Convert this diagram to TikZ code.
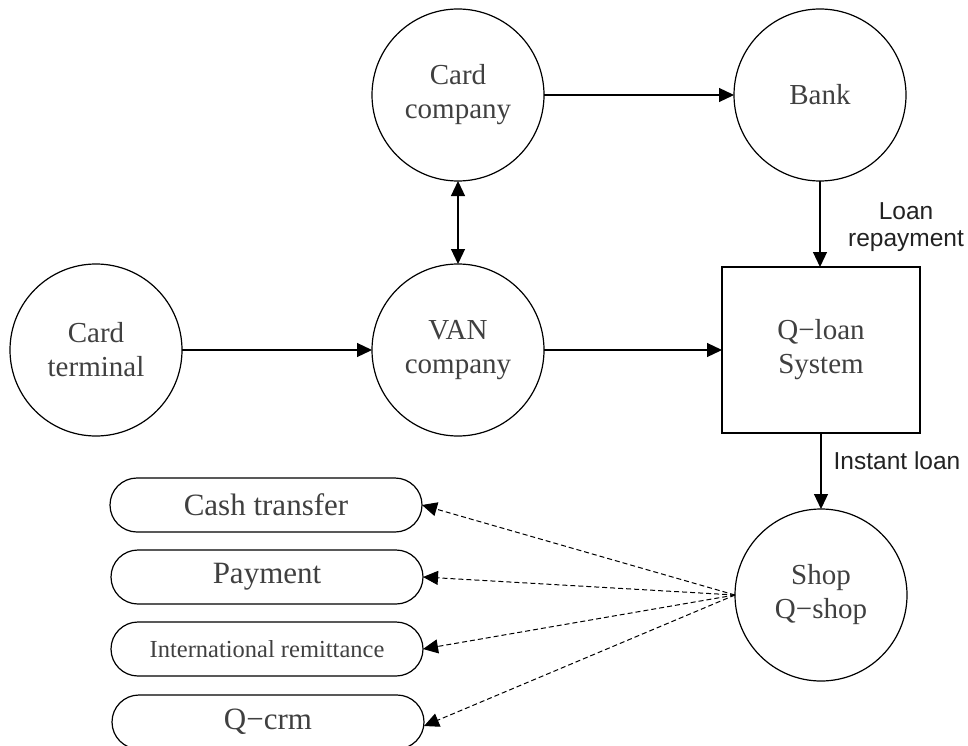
\documentclass[tikz,border=0pt]{standalone}
\usepackage{fontspec}
\setmainfont{Liberation Serif}
\setsansfont{Liberation Sans}
\usetikzlibrary{arrows.meta}
\definecolor{txtgray}{HTML}{404040}
\definecolor{lblgray}{HTML}{222222}
\newcommand{\mn}{\char"2212\relax}
\begin{document}
\begin{tikzpicture}[x=1pt,y=-1pt,
  every node/.style={inner sep=0pt, outer sep=0pt},
  circ/.style={circle, draw, line width=1.2pt, minimum size=172pt, align=center,
    text=txtgray, font=\fontsize{29}{34}\selectfont},
  sysbox/.style={rectangle, draw, line width=1.2pt, minimum width=198pt, minimum height=166pt,
    align=center, text=txtgray, font=\fontsize{29}{34}\selectfont},
  pill/.style={rectangle, draw, line width=1.2pt, rounded corners=27pt, minimum width=312pt,
    minimum height=54pt, text=txtgray, font=\fontsize{31}{34}\selectfont},
  lbl/.style={align=center, text=lblgray, font=\sffamily\fontsize{24.5}{27}\selectfont},
  arr/.style={line width=1.2pt, -{Triangle[length=15pt,width=14pt]}},
  darr/.style={line width=1pt, dash pattern=on 5pt off 3pt, -{Triangle[length=15pt,width=14pt]}},
  biarr/.style={line width=1.2pt, {Triangle[length=15pt,width=14pt]}-{Triangle[length=15pt,width=14pt]}}
]
\useasboundingbox (0,0) rectangle (968,746);
\clip (0,0) rectangle (968,746);

\node[circ] (cc) at (458,95) {Card\\company};
\node[circ] (bank) at (820,95) {Bank};
\node[circ] (term) at (96,350) {Card\\terminal};
\node[circ] (van) at (458,350) {VAN\\company};
\node[sysbox] (sys) at (821,350) {Q\mn loan\\System};
\node[circ] (shop) at (821,595) {Shop\\Q\mn shop};

\node[pill] (cash) at (266,505) {Cash transfer};
\node[pill] (pay) at (267,577) {Payment};
\node[pill, font=\fontsize{24.5}{28}\selectfont] (intl) at (267,649) {International remittance};
\node[pill] (qcrm) at (268,722) {Q\mn crm};

\node[lbl] (lr) at (906,227) {Loan\\repayment};
\node[lbl] (il) at (897,461) {Instant loan};

\draw[arr] (cc) -- (bank);
\draw[biarr] (cc) -- (van);
\draw[arr] (term) -- (van);
\draw[arr] (van) -- (sys);
\draw[arr] (bank.south) -- (bank.south |- sys.north);
\draw[arr] (sys.south) -- (sys.south |- shop.north);

\coordinate (hub) at (shop.west);
\draw[darr] (hub) -- (cash.east);
\draw[darr] (hub) -- (pay.east);
\draw[darr] (hub) -- (intl.east);
\draw[darr] (hub) -- ([yshift=-4pt]qcrm.east);
\end{tikzpicture}
\end{document}
